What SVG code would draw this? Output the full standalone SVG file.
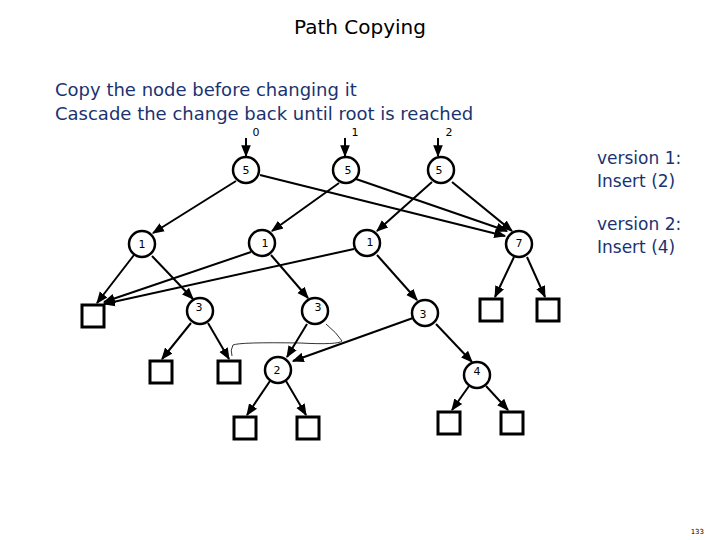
<svg xmlns="http://www.w3.org/2000/svg" width="720" height="540" viewBox="0 0 720 540">
<style>
text{font-family:"DejaVu Sans","Liberation Sans",sans-serif}
.n circle{fill:#fff;stroke:#000;stroke-width:2.5}
.n text{font-size:11px;text-anchor:middle}
.b{fill:#fff;stroke:#000;stroke-width:3}
.e line{stroke:#000;stroke-width:2;marker-end:url(#a)}
.t{font-size:18px;fill:#1a3370}
.v{font-size:17px;fill:#1a3370}
</style>
<defs><marker id="a" viewBox="0 0 10 10" refX="9" refY="5" markerWidth="6" markerHeight="6" orient="auto"><path d="M0,1L10,5L0,9z"/></marker></defs>
<rect width="720" height="540" fill="#fff"/>
<text x="360" y="34" font-size="20" text-anchor="middle">Path Copying</text>
<text x="55" y="96" class="t">Copy the node before changing it</text>
<text x="55" y="120" class="t">Cascade the change back until root is reached</text>
<text x="597" y="164" class="v">version 1:</text>
<text x="597" y="187" class="v">Insert (2)</text>
<text x="597" y="230" class="v">version 2:</text>
<text x="597" y="253" class="v">Insert (4)</text>
<text x="256" y="136" font-size="11" text-anchor="middle">0</text>
<text x="355" y="136" font-size="11" text-anchor="middle">1</text>
<text x="449" y="136" font-size="11" text-anchor="middle">2</text>
<text x="704" y="534" font-size="7" text-anchor="end">133</text>
<g id="connectors" class="e">
<line x1="246" y1="138" x2="246" y2="156"/>
<line x1="345" y1="138" x2="345" y2="156"/>
<line x1="438" y1="138" x2="438" y2="156"/>
<line x1="236" y1="181" x2="153" y2="233"/>
<line x1="260" y1="175" x2="505" y2="236"/>
<line x1="339" y1="183" x2="272" y2="231"/>
<line x1="356" y1="179" x2="507" y2="231"/>
<line x1="432" y1="182" x2="377" y2="231"/>
<line x1="452" y1="182" x2="512" y2="231"/>
<line x1="134" y1="255" x2="97" y2="303"/>
<line x1="152" y1="256" x2="193" y2="299"/>
<line x1="251" y1="252" x2="104" y2="302"/>
<line x1="271" y1="255" x2="308" y2="298"/>
<line x1="354" y1="249" x2="104" y2="304"/>
<line x1="377" y1="255" x2="417" y2="300"/>
<line x1="514" y1="257" x2="495" y2="297"/>
<line x1="527" y1="257" x2="545" y2="297"/>
<line x1="191" y1="323" x2="162" y2="359"/>
<line x1="208" y1="323" x2="229" y2="359"/>
<line x1="307" y1="324" x2="287" y2="357"/>
<line x1="413" y1="318" x2="293" y2="361"/>
<line x1="436" y1="324" x2="472" y2="362"/>
<line x1="270" y1="381" x2="247" y2="415"/>
<line x1="286" y1="381" x2="306" y2="415"/>
<line x1="469" y1="386" x2="452" y2="410"/>
<line x1="486" y1="386" x2="508" y2="410"/>
<path d="M326,324 Q337,333 342,341 Q338,345 300,343 Q240,342 233,345 Q230,350 232,356" fill="none" stroke="#000" stroke-width="0.8"/>
</g>
<g id="r0" class="n"><circle cx="246" cy="170" r="13"/><text x="246" y="174">5</text></g>
<g id="r1" class="n"><circle cx="346" cy="170" r="13"/><text x="348" y="174">5</text></g>
<g id="r2" class="n"><circle cx="441" cy="170" r="13"/><text x="439" y="174">5</text></g>
<g id="a1" class="n"><circle cx="142" cy="244" r="13"/><text x="142" y="248">1</text></g>
<g id="b1" class="n"><circle cx="262" cy="243" r="13"/><text x="265" y="247">1</text></g>
<g id="c1" class="n"><circle cx="367" cy="243" r="13"/><text x="370" y="246">1</text></g>
<g id="n7" class="n"><circle cx="519" cy="244" r="13"/><text x="519" y="247">7</text></g>
<g id="a3" class="n"><circle cx="200" cy="311" r="13"/><text x="199" y="311">3</text></g>
<g id="b3" class="n"><circle cx="315" cy="311" r="13"/><text x="318" y="311">3</text></g>
<g id="c3" class="n"><circle cx="425" cy="313" r="13"/><text x="423" y="318">3</text></g>
<g id="n2" class="n"><circle cx="278" cy="370" r="13"/><text x="277" y="374">2</text></g>
<g id="n4" class="n"><circle cx="477" cy="375" r="13"/><text x="477" y="375">4</text></g>
<g id="leaves">
<rect class="b" x="82" y="305" width="22" height="22"/>
<rect class="b" x="480" y="299" width="22" height="22"/>
<rect class="b" x="537" y="299" width="22" height="22"/>
<rect class="b" x="150" y="361" width="22" height="22"/>
<rect class="b" x="218" y="361" width="22" height="22"/>
<rect class="b" x="234" y="417" width="22" height="22"/>
<rect class="b" x="297" y="417" width="22" height="22"/>
<rect class="b" x="438" y="412" width="22" height="22"/>
<rect class="b" x="501" y="412" width="22" height="22"/>
</g>
</svg>
